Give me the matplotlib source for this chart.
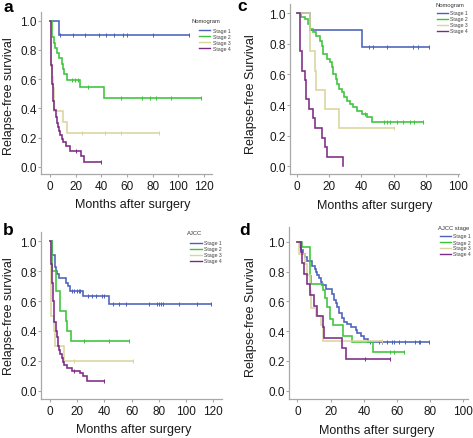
import numpy as np
import matplotlib
matplotlib.use('Agg')
import matplotlib.pyplot as plt
from matplotlib.lines import Line2D

plt.rcParams['font.family'] = ['Liberation Sans', 'DejaVu Sans']

W, H = 473, 439
DPI = 100

# ---------------- data (months, survival after each event) ----------------
stages = ['Stage 1', 'Stage 2', 'Stage 3', 'Stage 4']

# Panel a (Nomogram, cohort 1)
a1_t = [7.0]
a1_s = [0.90]
a1_end = 108
a1_c = [8, 18, 27, 38, 44, 50, 57, 60, 80, 108]
a2_t = [1.3, 1.8, 3.1, 4.0, 5.5, 7.0, 9.0, 10.4, 11.2, 13.0, 23.5, 41.8]
a2_s = [0.93, 0.886, 0.85, 0.815, 0.78, 0.745, 0.705, 0.67, 0.635, 0.597, 0.545, 0.468]
a2_end = 118
a2_c = [17, 19.5, 22, 30, 55, 72, 78, 83, 94, 118]
a3_t = [0.5, 1.2, 2.0, 2.8, 3.5, 10.4, 13.0]
a3_s = [0.692, 0.615, 0.538, 0.462, 0.385, 0.308, 0.231]
a3_end = 85
a3_c = [25, 43, 55, 85]
a4_t = [0.8, 1.3, 1.8, 2.6, 3.4, 4.4, 5.2, 6.0, 7.0, 8.0, 9.1, 10.4, 12.2, 15.6, 24.0, 26.8]
a4_s = [0.70, 0.64, 0.567, 0.45, 0.39, 0.34, 0.30, 0.27, 0.246, 0.22, 0.19, 0.167, 0.14, 0.105, 0.07, 0.035]
a4_end = 40
a4_c = [20, 40]

# Panel b (AJCC, cohort 1)
b1_t = [1.5, 3.5, 4.5, 5.5, 6.9, 11.5, 13.0, 14.5, 24.5, 43.0]
b1_s = [0.91, 0.83, 0.80, 0.78, 0.755, 0.72, 0.70, 0.67, 0.635, 0.582]
b1_end = 118
b1_c = [16, 18, 19.5, 21, 22, 28, 31, 34, 38, 40, 46, 51, 56, 73, 78.5, 80, 81.7, 83.4, 95, 108, 118]
b2_t = [1.5, 4.5, 7.5, 11.5, 12.5, 15.5]
b2_s = [0.80, 0.667, 0.533, 0.467, 0.40, 0.333]
b2_end = 58
b2_c = [25, 43, 58]
b3_t = [0.6, 3.0, 3.5, 10.5]
b3_s = [0.5, 0.4, 0.3, 0.2]
b3_end = 61
b3_c = [18, 61]
b4_t = [0.8, 1.2, 2.0, 2.6, 3.2, 4.4, 5.2, 5.6, 6.1, 6.9, 7.6, 8.6, 9.8, 10.6, 12.3, 16.0, 22.0, 24.0, 27.0]
b4_s = [0.85, 0.72, 0.60, 0.50, 0.46, 0.40, 0.36, 0.33, 0.30, 0.27, 0.245, 0.22, 0.195, 0.175, 0.15, 0.13, 0.12, 0.10, 0.067]
b4_end = 40
b4_c = [18, 40]

# Panel c (Nomogram, cohort 2)
c1_t = [8.3, 40.3]
c1_s = [0.889, 0.778]
c1_end = 82
c1_c = [45, 47, 56, 72, 75, 82]
c2_t = [2.9, 5.0, 7.0, 8.5, 10.2, 12.2, 14.3, 15.8, 16.4, 18.5, 20.5, 21.6, 22.6, 24.1, 25.1,
        26.1, 27.8, 29.2, 30.9, 32.9, 35.0, 37.1, 40.2, 43.3, 46.5]
c2_s = [0.976, 0.961, 0.928, 0.896, 0.874, 0.852, 0.82, 0.787, 0.733, 0.70, 0.678, 0.646, 0.602,
        0.57, 0.537, 0.504, 0.483, 0.45, 0.428, 0.406, 0.385, 0.363, 0.341, 0.32, 0.287]
c2_end = 78
c2_c = [42, 54, 56, 58, 62, 66, 70, 73, 78]
c3_t = [8.0, 11.2, 12.0, 17.4, 26.3]
c3_s = [0.75, 0.625, 0.5, 0.375, 0.25]
c3_end = 60
c3_c = [60]
c4_t = [2.0, 3.5, 5.0, 5.5, 6.0, 7.5, 10.2, 11.5, 15.8, 17.2, 19.0, 28.4]
c4_s = [0.75, 0.625, 0.5625, 0.5, 0.4375, 0.375, 0.3125, 0.25, 0.1875, 0.125, 0.0625, 0.0]
c4_end = 28.4
c4_c = []

# Panel d (AJCC stage, cohort 2)
d1_t = [1.4, 2.4, 3.4, 4.4, 6.0, 9.0, 10.4, 11.0, 12.0, 13.0, 14.0, 15.0, 17.0, 21.0, 22.0,
        23.0, 24.0, 25.0, 26.7, 28.0, 30.0, 32.0, 35.0, 36.0, 38.0, 40.0, 42.5]
d1_s = [0.966, 0.944, 0.921, 0.90, 0.87, 0.84, 0.82, 0.80, 0.78, 0.76, 0.73, 0.71, 0.68, 0.65,
        0.61, 0.59, 0.56, 0.52, 0.49, 0.46, 0.45, 0.43, 0.41, 0.39, 0.37, 0.35, 0.33]
d1_end = 79
d1_c = [44, 49, 51, 54, 57, 58, 61, 65, 71, 73, 74, 79]
d2_t = [2.5, 7.4, 7.8, 8.4, 15.4, 16.4, 18.0, 19.5, 21.5, 27.5, 33.0, 45.5]
d2_s = [0.966, 0.81, 0.77, 0.72, 0.675, 0.62, 0.56, 0.48, 0.44, 0.37, 0.326, 0.259]
d2_end = 64
d2_c = [56, 58, 64]
d3_t = [1.0, 4.4, 6.0, 7.4, 8.4, 11.4, 14.4, 15.4]
d3_s = [0.92, 0.85, 0.78, 0.667, 0.556, 0.50, 0.444, 0.333]
d3_end = 51
d3_c = [51]
d4_t = [2.0, 3.0, 4.0, 6.0, 7.4, 10.0, 12.0, 15.5, 16.0, 27.0, 29.5]
d4_s = [0.929, 0.857, 0.786, 0.714, 0.643, 0.571, 0.5, 0.429, 0.357, 0.286, 0.214]
d4_end = 56
d4_c = [41, 56]

yticks = [0.0, 0.2, 0.4, 0.6, 0.8, 1.0]
xticks_ab = [0, 20, 40, 60, 80, 100, 120]
xticks_cd = [0, 20, 40, 60, 80, 100]

COLORS = ['#4a60bb', '#3cc43c', '#d9d59c', '#7c2b84']
SPINE = '#a8a8a8'

fig = plt.figure(figsize=(W / DPI, H / DPI), dpi=DPI)


def px_axes(l, t, r, b):
    return fig.add_axes([l / W, 1 - b / H, (r - l) / W, (b - t) / H])


def km(ax, t, s, end, cens, color):
    t = np.asarray(t, float)
    s = np.asarray(s, float)
    x = np.concatenate([[0.0], t, [end]])
    y = np.concatenate([[1.0], s, [s[-1]]])
    ax.step(x, y, where='post', color=color, lw=1.15, solid_joinstyle='miter')
    if len(cens):
        c = np.asarray(cens, float)
        vals = np.concatenate([[1.0], s])[np.searchsorted(t, c, side='right')]
        ax.plot(c, vals, ls='none', marker='|', ms=3.2, mew=0.7, color=color)


def setup(ax, xlim, ylim, xticks, ylabel, ylab_xy, xlab_xy):
    ax.set_xlim(*xlim)
    ax.set_ylim(*ylim)
    ax.patch.set_alpha(0)
    for sp in ['top', 'right']:
        ax.spines[sp].set_visible(False)
    for sp in ['left', 'bottom']:
        ax.spines[sp].set_color(SPINE)
        ax.spines[sp].set_linewidth(0.9)
    ax.set_xticks(xticks)
    ax.set_yticks(yticks)
    ax.set_yticklabels([f'{v:.1f}' for v in yticks])
    ax.tick_params(axis='both', color=SPINE, length=2.2, width=0.8,
                   labelsize=8.5, labelcolor='#1a1a1a')
    ax.tick_params(axis='y', pad=1.0)
    ax.tick_params(axis='x', pad=2.2)
    ax.set_ylabel(ylabel, fontsize=9, color='#1a1a1a')
    ax.set_xlabel('Months after surgery', fontsize=9, color='#1a1a1a')
    ax.yaxis.set_label_coords(*ylab_xy)
    ax.xaxis.set_label_coords(*xlab_xy)


def legend(title, tx, ty, lx0, lx1, textx, ys):
    fig.text(tx / W, 1 - ty / H, title, fontsize=4.2, color='#333333', va='center', ha='left')
    for i, (lab, y) in enumerate(zip(stages, ys)):
        fig.add_artist(Line2D([lx0 / W, lx1 / W], [1 - y / H, 1 - y / H],
                              transform=fig.transFigure, color=COLORS[i], lw=1.0))
        fig.text(textx / W, 1 - y / H, lab, fontsize=3.7, color='#444444', va='center', ha='left')


# ---- panel a ----
axa = px_axes(41, 13, 212, 175)
for i, (t, s, e, c) in enumerate([(a1_t, a1_s, a1_end, a1_c), (a2_t, a2_s, a2_end, a2_c),
                                   (a3_t, a3_s, a3_end, a3_c), (a4_t, a4_s, a4_end, a4_c)]):
    km(axa, t, s, e, c, COLORS[i])
setup(axa, (-7.0, 126.3), (-0.05, 1.06), xticks_ab, 'Relapse-free survival',
      (-0.152, 0.489), (0.538, -0.148))

# ---- panel b ----
axb = px_axes(41, 233, 222, 400)
for i, (t, s, e, c) in enumerate([(b1_t, b1_s, b1_end, b1_c), (b2_t, b2_s, b2_end, b2_c),
                                   (b3_t, b3_s, b3_end, b3_c), (b4_t, b4_s, b4_end, b4_c)]):
    km(axb, t, s, e, c, COLORS[i])
setup(axb, (-6.6, 126.4), (-0.056, 1.063), xticks_ab, 'Relapse-free survival',
      (-0.144, 0.5), (0.514, -0.145))

# ---- panel c ----
axc = px_axes(290, 5, 459, 175)
for i, (t, s, e, c) in enumerate([(c1_t, c1_s, c1_end, c1_c), (c2_t, c2_s, c2_end, c2_c),
                                   (c3_t, c3_s, c3_end, c3_c), (c4_t, c4_s, c4_end, c4_c)]):
    km(axc, t, s, e, c, COLORS[i])
setup(axc, (-4.2, 100.6), (-0.05, 1.059), xticks_cd, 'Relapse-free Survival',
      (-0.194, 0.476), (0.5, -0.145))

# ---- panel d ----
axd = px_axes(289, 228, 468, 400)
for i, (t, s, e, c) in enumerate([(d1_t, d1_s, d1_end, d1_c), (d2_t, d2_s, d2_end, d2_c),
                                   (d3_t, d3_s, d3_end, d3_c), (d4_t, d4_s, d4_end, d4_c)]):
    km(axd, t, s, e, c, COLORS[i])
setup(axd, (-5.1, 102.8), (-0.056, 1.10), xticks_cd, 'Relapse-free Survival',
      (-0.18, 0.48), (0.49, -0.145))

# legends
legend('Nomogram', 191, 22, 199, 210, 213, [31, 37.3, 43.3, 49.3])
legend('AJCC', 187, 234, 190, 202, 203.5, [244, 250, 256, 262])
legend('Nomogram', 435, 5.5, 437, 448, 449.5, [14, 20, 26, 32])
legend('AJCC stage', 438, 229, 440, 451, 453, [236.7, 243.3, 249, 255])

# panel letters
for lab, x, y in [('a', 3.3, 12.0), ('b', 3.3, 235), ('c', 237.7, 11.2), ('d', 239.3, 235)]:
    fig.text(x / W, 1 - y / H, lab, fontsize=12.5, fontweight='bold', color='black',
             va='baseline', ha='left')

fig.savefig('out.png', dpi=DPI)
